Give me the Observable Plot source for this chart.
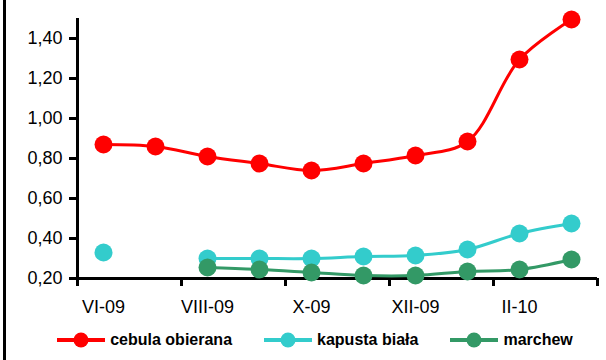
<!DOCTYPE html>
<html>
<head>
<meta charset="utf-8">
<script src="https://cdn.jsdelivr.net/npm/d3@7"></script>
<script src="https://cdn.jsdelivr.net/npm/@observablehq/plot@0.6"></script>
<style>
  html, body { margin: 0; padding: 0; background: #fff; }
  #wrap { position: relative; width: 606px; height: 360px; overflow: hidden; background: #fff; font-family: "Liberation Sans", Arial, sans-serif; }
  #border { position: absolute; left: 3px; top: 0; width: 3px; height: 360px; background: #000; }
  #legend { position: absolute; left: 0; top: 320px; width: 606px; height: 40px; display: flex; align-items: center; justify-content: center; padding-left: 24px; box-sizing: border-box; gap: 32px; font-weight: bold; font-size: 16px; color: #000; }
  .item { display: flex; align-items: center; gap: 5px; }
  .item svg { display: block; }
</style>
</head>
<body>
<div id="wrap"><div id="border"></div><div id="chart"></div><div id="legend"></div></div>
<script>
const months = ["VI-09","VII-09","VIII-09","IX-09","X-09","XI-09","XII-09","I-10","II-10","III-10"];
const cebula  = [0.87, 0.86, 0.81, 0.775, 0.74, 0.775, 0.815, 0.885, 1.295, 1.495];
const kapusta = [0.33, null, 0.30, 0.30, 0.30, 0.31, 0.315, 0.345, 0.425, 0.475];
const marchew = [null, null, 0.255, 0.245, 0.23, 0.215, 0.215, 0.235, 0.245, 0.295];
const seriesNames = ["cebula obierana", "kapusta biała", "marchew"];
const seriesColors = ["#FF0000", "#33CCCC", "#339966"];
const yTicks = [0.2, 0.4, 0.6, 0.8, 1.0, 1.2, 1.4];

const seriesValues = [cebula, kapusta, marchew];
const rows = [];
seriesValues.forEach((vals, s) => vals.forEach((v, i) => rows.push({series: seriesNames[s], i: i + 0.5, v})));

const n = months.length;
const boundaries = d3.range(0, n + 1, 2);
const labelPos = d3.range(0, n, 2).map(i => i + 0.5);
const fmt = v => d3.format(".2f")(v).replace(".", ",");

const marks = [
  Plot.axisY({ticks: yTicks, tickSize: 8, tickPadding: 7, tickFormat: fmt, strokeWidth: 3, fontSize: 18, label: null}),
  Plot.axisX({ticks: boundaries, tickSize: 8, tickFormat: () => "", strokeWidth: 3, label: null}),
  Plot.axisX({ticks: labelPos, tickSize: 0, tickPadding: 22, tickFormat: p => months[p - 0.5], fontSize: 18, label: null}),
  Plot.ruleY([0.2], {strokeWidth: 3}),
  Plot.ruleX([0], {strokeWidth: 3})
];
seriesNames.forEach((name, s) => {
  const data = rows.filter(r => r.series === name);
  marks.push(Plot.line(data, {x: "i", y: "v", stroke: seriesColors[s], strokeWidth: 3, curve: "catmull-rom"}));
  marks.push(Plot.dot(data.filter(d => d.v != null), {x: "i", y: "v", r: 9, fill: seriesColors[s], stroke: "none"}));
});

const chart = Plot.plot({
  width: 606, height: 320,
  marginLeft: 77, marginRight: 9, marginTop: 18, marginBottom: 42,
  x: {type: "linear", domain: [0, n], label: null},
  y: {domain: [0.2, 1.5], label: null},
  style: {fontFamily: "'Liberation Sans', Arial, sans-serif", fontSize: "18px", color: "#000", background: "transparent"},
  marks
});
document.getElementById("chart").appendChild(chart);

const legend = document.getElementById("legend");
seriesNames.forEach((name, s) => {
  const item = document.createElement("div");
  item.className = "item";
  item.innerHTML = `<svg width="48" height="16"><line x1="0" x2="48" y1="8" y2="8" stroke="${seriesColors[s]}" stroke-width="4"/><circle cx="24" cy="8" r="7.5" fill="${seriesColors[s]}"/></svg><span>${name}</span>`;
  legend.appendChild(item);
});
</script>
</body>
</html>
